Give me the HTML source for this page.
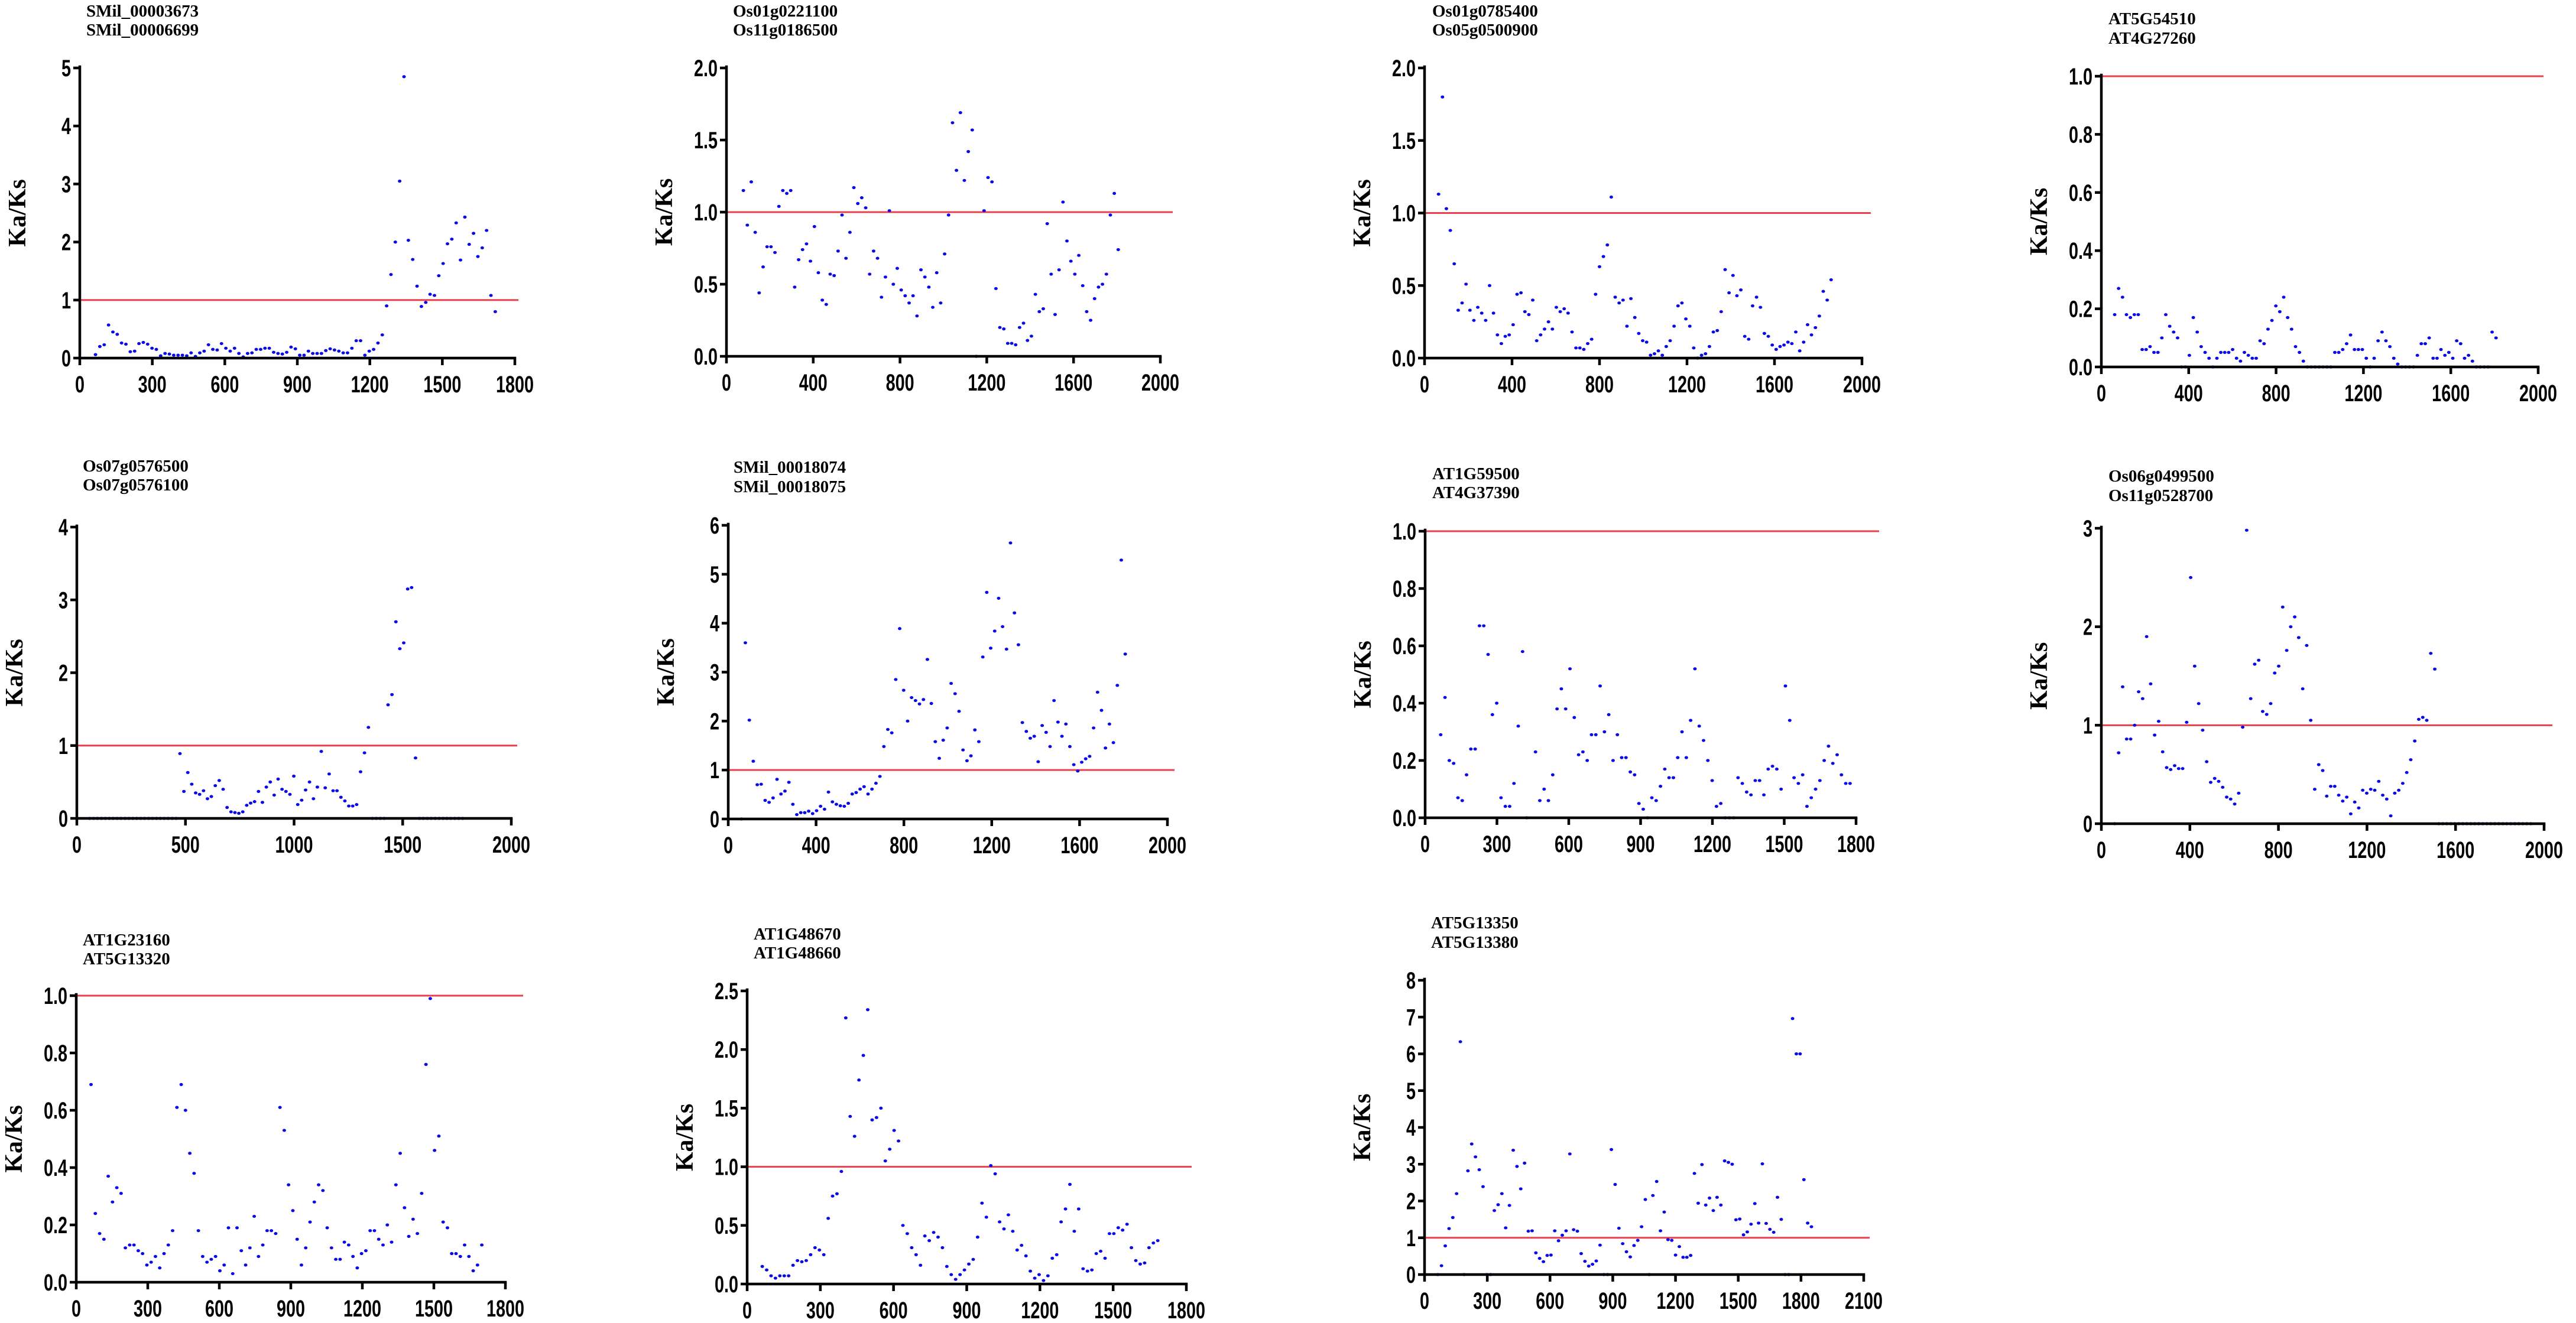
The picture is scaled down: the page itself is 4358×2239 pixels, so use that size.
<!DOCTYPE html>
<html><head><meta charset="utf-8"><title>Ka/Ks sliding window plots</title>
<style>
html,body{margin:0;padding:0;background:#fff;}
svg{display:block;}
</style></head>
<body>
<svg id="fig" xmlns="http://www.w3.org/2000/svg" width="4358" height="2239" viewBox="0 0 4358 2239">
<rect x="0" y="0" width="4358" height="2239" fill="#ffffff"/>
</svg>
<script>
// ---------- DATA ----------
const p1Vals = [0.06,0.2,0.23,0.57,0.45,0.41,0.26,0.24,0.11,0.12,0.25,0.27,0.24,0.17,0.15,0.04,0.08,0.07,0.05,0.05,0.05,0.04,0.09,0.03,0.09,0.12,0.23,0.15,0.14,0.25,0.17,0.12,0.17,0.08,0.02,0.08,0.09,0.15,0.15,0.17,0.17,0.1,0.08,0.07,0.1,0.19,0.16,0.05,0.05,0.12,0.08,0.08,0.08,0.13,0.16,0.14,0.12,0.09,0.09,0.17,0.3,0.3,0.05,0.12,0.15,0.26,0.4,0.9,1.44,2.0,3.05,4.85,2.03,1.7,1.24,0.89,0.96,1.1,1.08,1.42,1.63,1.97,2.05,2.33,1.69,2.43,1.96,2.15,1.75,1.9,2.2,1.08,0.8];
const p1XRange = [65,1719];
const p1XTicks = [0,300,600,900,1200,1500,1800];
const p1YTicks = [0,1,2,3,4,5];

const p2Vals = [1.15,0.91,1.21,0.86,0.44,0.62,0.76,0.76,0.72,1.04,1.15,1.13,1.15,0.48,0.67,0.74,0.78,0.66,0.9,0.58,0.39,0.36,0.57,0.56,0.73,0.98,0.68,0.86,1.17,1.06,1.1,1.03,0.57,0.73,0.68,0.41,0.55,1.01,0.5,0.61,0.46,0.42,0.37,0.42,0.28,0.6,0.55,0.48,0.34,0.58,0.37,0.71,0.98,1.62,1.29,1.69,1.22,1.42,1.57,0,null,1.01,1.24,1.21,0.47,0.2,0.19,0.09,0.09,0.08,0.2,0.23,0.11,0.14,0.43,0.31,0.33,0.92,0.57,0.29,0.6,1.07,0.8,0.66,0.57,0.7,0.49,0.31,0.25,0.4,0.48,0.5,0.57,0.98,1.13,0.74];
const p2XRange = [78,1806];
const p2XTicks = [0,400,800,1200,1600,2000];
const p2YTicks = [0,0.5,1.0,1.5,2.0];

const p3Vals = [1.13,1.8,1.03,0.88,0.65,0.33,0.38,0.51,0.33,0.26,0.35,0.31,0.26,0.5,0.31,0.16,0.1,0.15,0.16,0.23,0.44,0.45,0.32,0.3,0.4,0.12,0.16,0.2,0.25,0.2,0.35,0.32,0.34,0.31,0.18,0.07,0.07,0.06,0.1,0.13,0.44,0.63,0.7,0.78,1.11,0.42,0.38,0.4,0.22,0.41,0.28,0.17,0.12,0.11,0.02,0.03,0.05,0.02,0.08,0.12,0.22,0.36,0.38,0.27,0.22,0.07,0,0.02,0.03,0.08,0.18,0.19,0.32,0.61,0.45,0.57,0.43,0.47,0.15,0.13,0.36,0.42,0.35,0.17,0.15,0.09,0.06,0.08,0.09,0.11,0.1,0.18,0.05,0.11,0.23,0.16,0.21,0.29,0.46,0.4,0.54];
const p3XRange = [64,1859];
const p3XTicks = [0,400,800,1200,1600,2000];
const p3YTicks = [0,0.5,1.0,1.5,2.0];

const p4Vals = [0.18,0.27,0.24,0.18,0.17,0.18,0.18,0.06,0.06,0.07,0.05,0.05,0.1,0.18,0.14,0.12,0.1,0,0,0.04,0.17,0.12,0.07,0.05,0.03,0,0.03,0.05,0.05,0.05,0.06,0.03,0.02,0.05,0.04,0.03,0.03,0.09,0.08,0.13,0.16,0.21,0.19,0.24,0.17,0.13,0.07,0.05,0.02,0,0,0,0,0,0,0,0.05,0.05,0.06,0.08,0.11,0.06,0.06,0.06,0.03,0,0.03,0.09,0.12,0.09,0.07,0.03,0.01,0,0,0,0,0.04,0.08,0.08,0.1,0.03,0.03,0.06,0.04,0.05,0.03,0.09,0.08,0.03,0.04,0.02,0,0,0,0,0.12,0.1];
const p4XRange = [61,1807];
const p4XTicks = [0,400,800,1200,1600,2000];
const p4YTicks = [0,0.2,0.4,0.6,0.8,1.0];

const p5Vals = [0,0,0,0,0,0,0,0,0,0,0,0,0,0,0,0,0,0,0,0,0,0,0,0.89,0.37,0.63,0.47,0.35,0.33,0.38,0.27,0.3,0.45,0.52,0.4,0.15,0.09,0.08,0.07,0.09,0.18,0.21,0.23,0.37,0.22,0.43,0.5,0.32,0.54,0.4,0.37,0.33,0.58,0.19,0.25,0.39,0.5,0.27,0.43,0.92,0.42,0.61,0.38,0.38,0.29,0.24,0.17,0.17,0.19,0.64,0.9,1.25,0,0,0,0,1.56,1.7,2.7,2.33,2.41,3.15,3.17,0.83,0,0,0,0,0,0,0,0,0,0,0,0];
const p5XRange = [59,1776];
const p5XTicks = [0,500,1000,1500,2000];
const p5YTicks = [0,1,2,3,4];

const p6Vals = [0,3.6,2.02,1.18,0.7,0.71,0.38,0.34,0.43,0.81,0.51,0.57,0.75,0.3,0.09,0.13,0.13,0.16,0.11,0.17,0.26,0.2,0.55,0.35,0.3,0.27,0.26,0.32,0.51,0.54,0.61,0.66,0.51,0.61,0.73,0.87,1.48,1.83,1.76,2.85,3.89,2.63,2.0,2.48,2.42,2.35,2.44,3.26,2.36,1.58,1.24,1.61,1.86,2.77,2.56,2.2,1.41,1.19,1.29,1.82,1.58,3.31,4.63,3.49,3.84,4.51,3.93,3.47,5.64,4.21,3.56,1.97,1.79,1.65,1.69,1.17,1.91,1.77,1.48,2.42,1.98,1.69,1.94,1.48,1.11,0.98,1.16,1.23,1.28,1.86,2.59,2.22,1.45,1.94,1.56,2.73,5.29,3.37];
const p6XRange = [60,1808];
const p6XTicks = [0,400,800,1200,1600,2000];
const p6YTicks = [0,1,2,3,4,5,6];

const p7Vals = [0.29,0.42,0.2,0.19,0.07,0.06,0.15,0.24,0.24,0.67,0.67,0.57,0.36,0.4,0.07,0.04,0.04,0.12,0.32,0.58,0,null,0.23,0.06,0.1,0.06,0.15,0.38,0.45,0.38,0.52,0.35,0.22,0.23,0.2,0.29,0.29,0.46,0.3,0.36,0.2,0.29,0.21,0.21,0.16,0.15,0.05,0.03,0,0.07,0.06,0.11,0.17,0.14,0.14,0.21,0.3,0.21,0.34,0.52,0.32,0.27,0.2,0.13,0.04,0.05,0,0,0,0.14,0.12,0.09,0.08,0.13,0.13,0.08,0.17,0.18,0.17,0.1,0.46,0.34,0.14,0.12,0.15,0.04,0.07,0.1,0.13,0.2,0.25,0.19,0.22,0.15,0.12,0.12];
const p7XRange = [65,1775];
const p7XTicks = [0,300,600,900,1200,1500,1800];
const p7YTicks = [0,0.2,0.4,0.6,0.8,1.0];

const p8Vals = [0,0.72,1.39,0.86,0.86,1.0,1.34,1.27,1.9,1.42,0.9,1.04,0.73,0.57,0.55,0.59,0.56,0.56,1.03,2.5,1.6,1.22,0.95,0.63,0.42,0.46,0.43,0.37,0.27,0.25,0.2,0.31,0.98,2.98,1.27,1.62,1.66,1.14,1.11,1.22,1.53,1.6,2.2,1.76,2.0,2.1,1.89,1.37,1.81,1.05,0.35,0.6,0.54,0.28,0.38,0.38,0.29,0.23,0.27,0.1,0.22,0.16,0.34,0.31,0.35,0.34,0.43,0.29,0.25,0.08,0.31,0.34,0.41,0.52,0.65,0.84,1.06,1.08,1.05,1.73,1.57,0,0,0,0,0,0,0,0,0,0,0,0,0,0,0,0,0,0,0,0,0,0,0,0];
const p8XRange = [60,1940];
const p8XTicks = [0,400,800,1200,1600,2000];
const p8YTicks = [0,1,2,3];

const p9Vals = [0.69,0.24,0.17,0.15,0.37,0.28,0.33,0.31,0.12,0.13,0.13,0.11,0.1,0.06,0.07,0.09,0.05,0.1,0.13,0.18,0.61,0.69,0.6,0.45,0.38,0.18,0.09,0.07,0.08,0.09,0.04,0.06,0.19,0.03,0.19,0.11,0.06,0.12,0.23,0.09,0.13,0.18,0.18,0.17,0.61,0.53,0.34,0.25,0.15,0.06,0.12,0.21,0.28,0.34,0.32,0.19,0.12,0.08,0.08,0.14,0.13,0.09,0.05,0.1,0.11,0.18,0.18,0.15,0.13,0.2,0.14,0.34,0.45,0.26,0.16,0.22,0.17,0.31,0.76,0.99,0.46,0.51,0.21,0.19,0.1,0.1,0.09,0.13,0.09,0.04,0.06,0.13];
const p9XRange = [62,1701];
const p9XTicks = [0,300,600,900,1200,1500,1800];
const p9YTicks = [0,0.2,0.4,0.6,0.8,1.0];

const p10Vals = [0.15,0.12,0.07,0.05,0.07,0.07,0.07,0.16,0.2,0.19,0.2,0.25,0.31,0.29,0.25,0.56,0.75,0.77,0.96,2.27,1.43,1.26,1.74,1.95,2.34,1.4,1.42,1.5,1.05,1.15,1.31,1.22,0.5,0.43,0.31,0.25,0.16,0.41,0.37,0.44,0.4,0.31,0.15,0.08,0.04,0.08,0.12,0.17,0.21,0.4,0.69,0.57,1.01,0.94,0.53,0.47,0.59,0.45,0.29,0.33,0.24,0.11,0.05,0.08,0.03,0.07,0.22,0.25,0.53,0.64,0.85,0.45,0.64,0.13,0.11,0.12,0.26,0.28,0.22,0.43,0.43,0.48,0.46,0.51,0.31,0.2,0.17,0.18,0.31,0.35,0.37];
const p10XRange = [62,1683];
const p10XTicks = [0,300,600,900,1200,1500,1800];
const p10YTicks = [0,0.5,1.0,1.5,2.0,2.5];

const p11Vals = [0,0.24,0.78,1.25,1.55,2.2,6.33,0,2.82,3.55,3.2,2.85,2.39,0,0,1.74,1.9,2.2,1.27,1.88,3.38,2.94,2.33,3.03,1.18,1.19,0.59,0.44,0.35,0.52,0.53,1.19,0.92,1.07,1.19,3.28,1.22,1.18,0.57,0.36,0.23,0.28,0.37,0.8,0,0,3.4,2.45,1.26,0.84,0.62,0.48,0.79,0.93,1.3,2.04,0,2.15,2.53,1.19,1.7,0.95,0.93,0.53,0.76,0.47,0.47,0.52,2.75,1.94,2.99,1.89,2.08,1.74,2.1,1.89,3.09,3.05,3.0,1.49,1.51,1.08,1.16,1.37,1.93,1.4,3.01,1.39,1.23,1.15,2.1,1.5,0,0,6.96,6.0,6.0,2.58,1.4,1.3];
const p11XRange = [63,1850];
const p11XTicks = [0,300,600,900,1200,1500,1800,2100];
const p11YTicks = [0,1,2,3,4,5,6,7,8];

// ---------- LAYOUT (pixel geometry only) ----------
const panels = [
 {id:'p1', t1:'SMil_00003673', t2:'SMil_00006699', vals:p1Vals, xr:p1XRange, xt:p1XTicks, yt:p1YTicks, dec:0, L:135, R:871, B:606, T:115, tx:146, ty1:28, ty2:60, red:877},
 {id:'p2', t1:'Os01g0221100', t2:'Os11g0186500', vals:p2Vals, xr:p2XRange, xt:p2XTicks, yt:p2YTicks, dec:1, L:1229, R:1963, B:603, T:115, tx:1240, ty1:28, ty2:60, red:1984},
 {id:'p3', t1:'Os01g0785400', t2:'Os05g0500900', vals:p3Vals, xr:p3XRange, xt:p3XTicks, yt:p3YTicks, dec:1, L:2410, R:3150, B:606, T:115, tx:2423, ty1:28, ty2:60, red:3165},
 {id:'p4', t1:'AT5G54510', t2:'AT4G27260', vals:p4Vals, xr:p4XRange, xt:p4XTicks, yt:p4YTicks, dec:1, L:3555, R:4294, B:621, T:129, tx:3567, ty1:41, ty2:74, red:4303},
 {id:'p5', t1:'Os07g0576500', t2:'Os07g0576100', vals:p5Vals, xr:p5XRange, xt:p5XTicks, yt:p5YTicks, dec:0, L:130, R:865, B:1385, T:892, tx:140, ty1:798, ty2:830, red:875},
 {id:'p6', t1:'SMil_00018074', t2:'SMil_00018075', vals:p6Vals, xr:p6XRange, xt:p6XTicks, yt:p6YTicks, dec:0, L:1232, R:1975, B:1386, T:889, tx:1241, ty1:800, ty2:833, red:1987},
 {id:'p7', t1:'AT1G59500', t2:'AT4G37390', vals:p7Vals, xr:p7XRange, xt:p7XTicks, yt:p7YTicks, dec:1, L:2411, R:3140, B:1384, T:899, tx:2423, ty1:811, ty2:843, red:3179},
 {id:'p8', t1:'Os06g0499500', t2:'Os11g0528700', vals:p8Vals, xr:p8XRange, xt:p8XTicks, yt:p8YTicks, dec:0, L:3555, R:4304, B:1394, T:894, tx:3567, ty1:815, ty2:848, red:4318},
 {id:'p9', t1:'AT1G23160', t2:'AT5G13320', vals:p9Vals, xr:p9XRange, xt:p9XTicks, yt:p9YTicks, dec:1, L:129, R:855, B:2170, T:1685, tx:140, ty1:1600, ty2:1632, red:885},
 {id:'p10', t1:'AT1G48670', t2:'AT1G48660', vals:p10Vals, xr:p10XRange, xt:p10XTicks, yt:p10YTicks, dec:1, L:1264, R:2007, B:2173, T:1677, tx:1275, ty1:1590, ty2:1622, red:2016},
 {id:'p11', t1:'AT5G13350', t2:'AT5G13380', vals:p11Vals, xr:p11XRange, xt:p11XTicks, yt:p11YTicks, dec:0, L:2410, R:3153, B:2157, T:1659, tx:2421, ty1:1571, ty2:1604, red:3163}
];

const NS = 'http://www.w3.org/2000/svg';
const svg = document.getElementById('fig');
function mk(tag, attrs, parent){
  const e = document.createElementNS(NS, tag);
  for (const k in attrs) e.setAttribute(k, attrs[k]);
  (parent||svg).appendChild(e);
  return e;
}

panels.forEach(p => {
  const g = mk('g', {});
  
  

  const xMax = p.xt[p.xt.length-1];
  const yMax = p.yt[p.yt.length-1];
  const xs = v => p.L + (v / xMax) * (p.R - p.L);
  const ys = v => p.B - (v / yMax) * (p.B - p.T);

  const t1 = mk('text', {x:p.tx, y:p.ty1, 'font-family':'"Liberation Serif", serif', 'font-weight':'bold', 'font-size':29, fill:'#000'}, g);
  t1.textContent = p.t1;
  
  
  const t2 = mk('text', {x:p.tx, y:p.ty2, 'font-family':'"Liberation Serif", serif', 'font-weight':'bold', 'font-size':29, fill:'#000'}, g);
  t2.textContent = p.t2;
  
  

  const cy = (p.T + p.B) / 2, cx = p.L - 92;
  const yl = mk('text', {x:0, y:0, transform:'translate(' + cx + ',' + cy + ') rotate(-90)', 'text-anchor':'middle', 'font-family':'"Liberation Serif", serif', 'font-weight':'bold', 'font-size':42, fill:'#000'}, g);
  yl.textContent = 'Ka/Ks';
  
  

  const rl = mk('line', {x1:p.L, x2:p.red, y1:ys(1), y2:ys(1), stroke:'#e8404f', 'stroke-width':3}, g);
  
  

  const n = p.vals.length;
  const step = (p.xr[1] - p.xr[0]) / (n - 1);
  p.vals.forEach((v, i) => {
    if (v === null) return;
    const c = mk('ellipse', {cx:xs(p.xr[0] + i*step), cy:ys(v), rx:3, ry:2.6, fill:'#0a0ae6'}, g);
    
    
  });

  const ax = mk('path', {d:'M' + p.L + ',' + (p.T-2) + ' L' + p.L + ',' + p.B + ' L' + p.R + ',' + p.B, fill:'none', stroke:'#000', 'stroke-width':4.5, 'stroke-linecap':'square'}, g);
  
  

  p.yt.forEach(v => {
    const y = ys(v);
    const tk = mk('line', {x1:p.L-11, x2:p.L, y1:y, y2:y, stroke:'#000', 'stroke-width':4.5}, g);
    
    
    const lb = mk('text', {x:0, y:0, transform:'translate(' + (p.L-15) + ',' + (y+14) + ') scale(0.72,1)', 'text-anchor':'end', 'font-family':'"Liberation Sans", sans-serif', 'font-weight':'bold', 'font-size':40, fill:'#000'}, g);
    lb.textContent = v.toFixed(p.dec);
    
    
  });
  p.xt.forEach(v => {
    const x = xs(v);
    const tk = mk('line', {x1:x, x2:x, y1:p.B, y2:p.B+12, stroke:'#000', 'stroke-width':4.5}, g);
    
    
    const lb = mk('text', {x:0, y:0, transform:'translate(' + x + ',' + (p.B+58) + ') scale(0.72,1)', 'text-anchor':'middle', 'font-family':'"Liberation Sans", sans-serif', 'font-weight':'bold', 'font-size':40, fill:'#000'}, g);
    lb.textContent = String(v);
    
    
  });
});
</script>
</body></html>
